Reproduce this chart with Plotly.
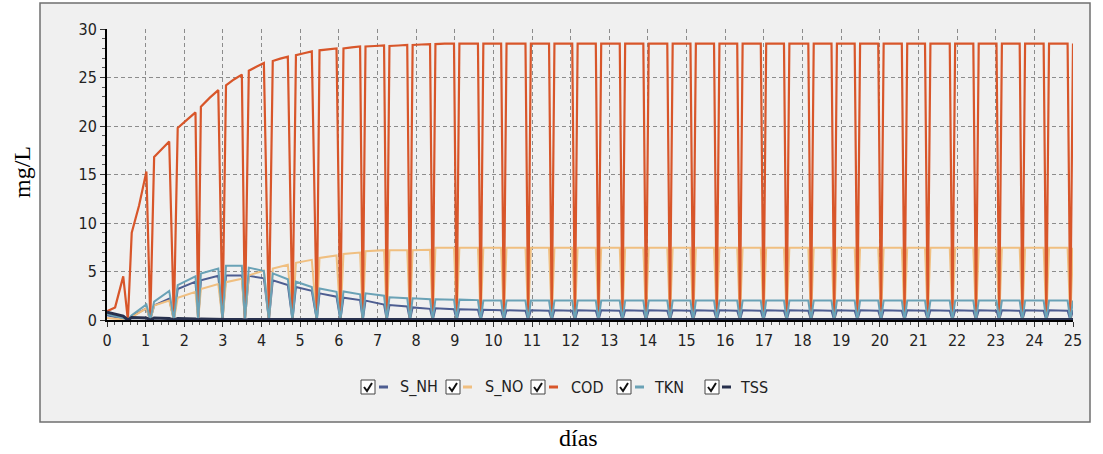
import plotly.graph_objects as go

# ---- cycle timing (days): start of fill, end of reaction (drain), empty point ----
t_fill = [0.00, 0.64, 1.22, 1.83, 2.43, 3.08, 3.67, 4.29, 4.89, 5.50,
          6.12, 6.69, 7.31, 7.91, 8.50, 9.12, 9.74, 10.34, 10.97, 11.58,
          12.18, 12.79, 13.41, 14.02, 14.64, 15.24, 15.85, 16.45, 17.06, 17.66,
          18.29, 18.89, 19.49, 20.10, 20.71, 21.31, 21.95, 22.56, 23.16, 23.76,
          24.38, 25.00]
t_drain = [0.42, 1.02, 1.61, 2.29, 2.88, 3.49, 4.06, 4.68, 5.30, 5.94,
           6.55, 7.17, 7.77, 8.36, 8.98, 9.60, 10.20, 10.83, 11.44, 12.04,
           12.65, 13.27, 13.88, 14.50, 15.10, 15.71, 16.31, 16.92, 17.52, 18.15,
           18.75, 19.35, 19.96, 20.57, 21.17, 21.81, 22.42, 23.02, 23.62, 24.24,
           24.86, 25.00]
t_empty = [0.54, 1.12, 1.73, 2.36, 2.99, 3.57, 4.19, 4.80, 5.43, 6.04,
           6.62, 7.24, 7.84, 8.43, 9.05, 9.67, 10.27, 10.90, 11.51, 12.11,
           12.72, 13.34, 13.95, 14.57, 15.17, 15.78, 16.38, 16.99, 17.59, 18.22,
           18.82, 19.42, 20.03, 20.64, 21.24, 21.88, 22.49, 23.09, 23.69, 24.31,
           24.93]

# ---- concentrations (mg/L) at start / middle / end of each cycle ----
cod_start = [0.9, 9.0, 16.8, 19.8, 22.0, 24.2, 25.7, 26.7, 27.3, 27.8,
             28.0, 28.2, 28.25, 28.35, 28.45, 28.5, 28.5, 28.5, 28.5, 28.5,
             28.5, 28.5, 28.5, 28.5, 28.5, 28.5, 28.5, 28.5, 28.5, 28.5,
             28.5, 28.5, 28.5, 28.5, 28.5, 28.5, 28.5, 28.5, 28.5, 28.5,
             28.5, 28.5]
cod_mid = [1.3, 11.8, 17.6, 20.6, 22.9, 24.8, 26.1, 26.95, 27.5, 27.9,
           28.1, 28.25, 28.3, 28.4, 28.5, 28.5, 28.5, 28.5, 28.5, 28.5,
           28.5, 28.5, 28.5, 28.5, 28.5, 28.5, 28.5, 28.5, 28.5, 28.5,
           28.5, 28.5, 28.5, 28.5, 28.5, 28.5, 28.5, 28.5, 28.5, 28.5,
           28.5, 28.5]
cod_end = [4.5, 15.3, 18.4, 21.4, 23.7, 25.3, 26.5, 27.15, 27.7, 28.0,
           28.2, 28.3, 28.35, 28.45, 28.5, 28.5, 28.5, 28.5, 28.5, 28.5,
           28.5, 28.5, 28.5, 28.5, 28.5, 28.5, 28.5, 28.5, 28.5, 28.5,
           28.5, 28.5, 28.5, 28.5, 28.5, 28.5, 28.5, 28.5, 28.5, 28.5,
           28.5, 28.5]

sno_start = [0.2, 0.3, 1.5, 2.3, 3.2, 3.9, 4.6, 5.3, 5.9, 6.4,
             6.8, 7.1, 7.2, 7.2, 7.45, 7.45, 7.45, 7.45, 7.45, 7.45,
             7.45, 7.45, 7.45, 7.45, 7.45, 7.45, 7.45, 7.45, 7.45, 7.45,
             7.45, 7.45, 7.45, 7.45, 7.45, 7.45, 7.45, 7.45, 7.45, 7.45,
             7.45, 7.45]
sno_end = [0.1, 1.2, 2.0, 2.9, 3.7, 4.25, 5.1, 5.7, 6.2, 6.65,
           6.95, 7.2, 7.2, 7.25, 7.45, 7.45, 7.45, 7.45, 7.45, 7.45,
           7.45, 7.45, 7.45, 7.45, 7.45, 7.45, 7.45, 7.45, 7.45, 7.45,
           7.45, 7.45, 7.45, 7.45, 7.45, 7.45, 7.45, 7.45, 7.45, 7.45,
           7.45, 7.45]

tkn_start = [0.6, 0.5, 1.9, 3.6, 4.8, 5.6, 5.4, 4.8, 3.95, 3.25,
             2.95, 2.75, 2.35, 2.25, 2.15, 2.1, 2.0, 2.0, 2.0, 2.0,
             2.0, 2.0, 2.0, 2.0, 2.0, 2.0, 2.0, 2.0, 2.0, 2.0,
             2.0, 2.0, 2.0, 2.0, 2.0, 2.0, 2.0, 2.0, 2.0, 2.0,
             2.0, 2.0]
tkn_end = [0.2, 1.6, 3.0, 4.5, 5.3, 5.6, 5.05, 4.2, 3.4, 2.9,
           2.65, 2.5, 2.25, 2.15, 2.1, 2.05, 2.0, 2.0, 2.0, 2.0,
           2.0, 2.0, 2.0, 2.0, 2.0, 2.0, 2.0, 2.0, 2.0, 2.0,
           2.0, 2.0, 2.0, 2.0, 2.0, 2.0, 2.0, 2.0, 2.0, 2.0,
           2.0, 2.0]

snh_start = [0.5, 0.4, 1.5, 3.2, 4.1, 4.6, 4.55, 4.1, 3.4, 2.75,
             2.3, 2.0, 1.55, 1.3, 1.2, 1.1, 1.05, 1.0, 1.0, 1.0,
             1.0, 1.0, 1.0, 1.0, 1.0, 1.0, 1.0, 1.0, 1.0, 1.0,
             1.0, 1.0, 1.0, 1.0, 1.0, 1.0, 1.0, 1.0, 1.0, 1.0,
             1.0, 1.0]
snh_end = [0.15, 1.2, 2.2, 3.95, 4.55, 4.6, 4.3, 3.6, 3.0, 2.4,
           2.05, 1.6, 1.4, 1.15, 1.1, 1.05, 1.0, 0.95, 0.95, 0.95,
           0.95, 0.95, 0.95, 0.95, 0.95, 0.95, 0.95, 0.95, 0.95, 0.95,
           0.95, 0.95, 0.95, 0.95, 0.95, 0.95, 0.95, 0.95, 0.95, 0.95,
           0.95, 0.95]

tss_start = [0.8, 0.25, 0.2, 0.15, 0.1, 0.05, 0.05, 0.05, 0.05, 0.05,
             0.05, 0.05, 0.05, 0.05, 0.05, 0.05, 0.05, 0.05, 0.05, 0.05,
             0.05, 0.05, 0.05, 0.05, 0.05, 0.05, 0.05, 0.05, 0.05, 0.05,
             0.05, 0.05, 0.05, 0.05, 0.05, 0.05, 0.05, 0.05, 0.05, 0.05,
             0.05, 0.05]
tss_end = [0.4, 0.2, 0.15, 0.1, 0.05, 0.05, 0.05, 0.05, 0.05, 0.05,
           0.05, 0.05, 0.05, 0.05, 0.05, 0.05, 0.05, 0.05, 0.05, 0.05,
           0.05, 0.05, 0.05, 0.05, 0.05, 0.05, 0.05, 0.05, 0.05, 0.05,
           0.05, 0.05, 0.05, 0.05, 0.05, 0.05, 0.05, 0.05, 0.05, 0.05,
           0.05, 0.05]

x_ticks = list(range(0, 26))
y_ticks = [0, 5, 10, 15, 20, 25, 30]


def cycle_series(start, end, mid=None):
    """Join the per-cycle values into one polyline: fill -> (mid) -> drain -> empty."""
    xs, ys = [], []
    for i in range(len(t_fill)):
        xs.append(t_fill[i]); ys.append(start[i])
        if mid is not None:
            xs.append((t_fill[i] + t_drain[i]) / 2); ys.append(mid[i])
        xs.append(t_drain[i]); ys.append(end[i])
        if i < len(t_empty):
            xs.append(t_empty[i]); ys.append(0.0)
    return xs, ys


series = [
    ("S_NH", snh_start, snh_end, None, "#4d5d91", 2.0),
    ("S_NO", sno_start, sno_end, None, "#f0bf80", 2.0),
    ("COD", cod_start, cod_end, cod_mid, "#d8562a", 2.2),
    ("TKN", tkn_start, tkn_end, None, "#6aa2b6", 2.0),
    ("TSS", tss_start, tss_end, None, "#27304d", 3.0),
]

fig = go.Figure()
for name, s, e, m, color, width in series:
    xs, ys = cycle_series(s, e, m)
    fig.add_trace(go.Scatter(x=xs, y=ys, mode="lines", name=name,
                             line=dict(color=color, width=width),
                             showlegend=False, cliponaxis=True))

# pixel -> paper helpers (plot area spans x 107..1073, y 29..320)
L, R, T, B = 107, 1073, 29, 320


def px(x):
    return (x - L) / (R - L)


def py(y):
    return (B - y) / (B - T)


tick_font = dict(family="Liberation Sans Narrow, DejaVu Sans Condensed, Roboto Condensed, Liberation Sans",
                 size=16, color="#222222")
title_font = dict(family="Liberation Serif, Times New Roman, serif", size=24, color="#000000")

shapes = [
    # grey chart panel with frame
    dict(type="rect", xref="paper", yref="paper", layer="below",
         x0=px(40), x1=px(1090), y0=py(422), y1=py(3),
         fillcolor="#f0f0f0", line=dict(color="#6f6f6f", width=1.5)),
]
annotations = [
    dict(text="mg/L", xref="paper", yref="paper", x=px(22), y=py(172),
         showarrow=False, textangle=-90, font=title_font,
         xanchor="center", yanchor="middle"),
    dict(text="días", xref="paper", yref="paper", x=px(578), y=py(438),
         showarrow=False, font=title_font, xanchor="center", yanchor="middle"),
]

# checkbox legend
box_left = [361, 446, 531, 617, 705]
dash_left = [379, 463, 549, 635, 722]
text_left = [398, 483, 569, 652, 738]
ly = 387
for (name, _s, _e, _m, color, _w), bx, dx, tx in zip(series, box_left, dash_left, text_left):
    shapes.append(dict(type="rect", xref="paper", yref="paper",
                       x0=px(bx), x1=px(bx + 14), y0=py(ly + 7), y1=py(ly - 7),
                       fillcolor="#ffffff", line=dict(color="#444444", width=1)))
    path = "M {:.5f},{:.5f} L {:.5f},{:.5f} L {:.5f},{:.5f}".format(
        px(bx + 3), py(ly), px(bx + 6), py(ly + 4), px(bx + 11), py(ly - 4))
    shapes.append(dict(type="path", xref="paper", yref="paper", path=path,
                       line=dict(color="#111111", width=2)))
    shapes.append(dict(type="line", xref="paper", yref="paper",
                       x0=px(dx), x1=px(dx + 9), y0=py(ly), y1=py(ly),
                       line=dict(color=color, width=3)))
    annotations.append(dict(text=name, xref="paper", yref="paper",
                            x=px(tx), y=py(ly), showarrow=False,
                            xanchor="left", yanchor="middle", font=tick_font))

axis_common = dict(showgrid=True, gridcolor="#8c8c8c", gridwidth=1, griddash="4px,3px",
                   showline=True, linecolor="#000000", linewidth=2,
                   ticks="outside", ticklen=5, tickcolor="#333333",
                   zeroline=False, tickfont=tick_font)

fig.update_layout(
    width=1103, height=454, autosize=False,
    margin=dict(l=L, r=1103 - R, t=T, b=454 - B, pad=0),
    paper_bgcolor="#ffffff", plot_bgcolor="rgba(0,0,0,0)",
    showlegend=False,
    xaxis=dict(range=[0, 25], tickvals=x_ticks, ticktext=[str(v) for v in x_ticks],
               minor=dict(dtick=0.2, tick0=0, ticks="outside", ticklen=3,
                          tickcolor="#555555", showgrid=False),
               **axis_common),
    yaxis=dict(range=[0, 30], tickvals=y_ticks, ticktext=[str(v) for v in y_ticks],
               minor=dict(dtick=1, tick0=0, ticks="outside", ticklen=3,
                          tickcolor="#555555", showgrid=False),
               **axis_common),
    shapes=shapes,
    annotations=annotations,
)

fig.write_html("out.html")
